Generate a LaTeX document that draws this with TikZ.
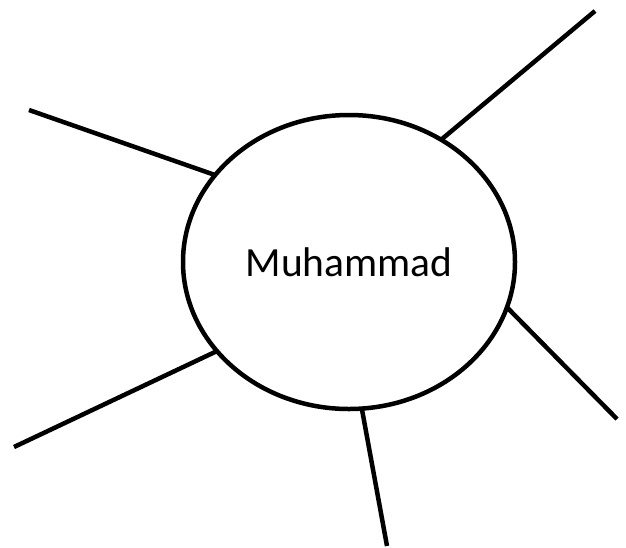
\documentclass[tikz,border=0pt]{standalone}
\usepackage{fontspec}
\setmainfont{Carlito}
\usetikzlibrary{shapes.geometric}

\begin{document}
\begin{tikzpicture}[
    x=1pt, y=-1pt,
    hubnode/.style={draw, ellipse, line width=4.5pt, inner sep=0pt, outer sep=0pt,
        minimum width=332pt, minimum height=294pt,
        font=\fontsize{41.5}{49}\selectfont},
    spoke/.style={line width=4.5pt}
]
    \useasboundingbox (0,0) rectangle (626,547);

    % Central ellipse
    \node[hubnode] (hub) at (349,262) {Muhammad};

    % Free ends of the spokes
    \coordinate (upleft) at (29,110);
    \coordinate (upright) at (595,11);
    \coordinate (lowright) at (617,419);
    \coordinate (bottom) at (387,546);
    \coordinate (lowleft) at (14,447);

    % Spokes
    \draw[spoke] (upleft) -- (hub.147);
    \draw[spoke] (upright) -- (hub.53.6);
    \draw[spoke] (lowright) -- (hub.-16.9);
    \draw[spoke] (bottom) -- (hub.-85);
    \draw[spoke] (lowleft) -- (hub.214.2);

\end{tikzpicture}
\end{document}
